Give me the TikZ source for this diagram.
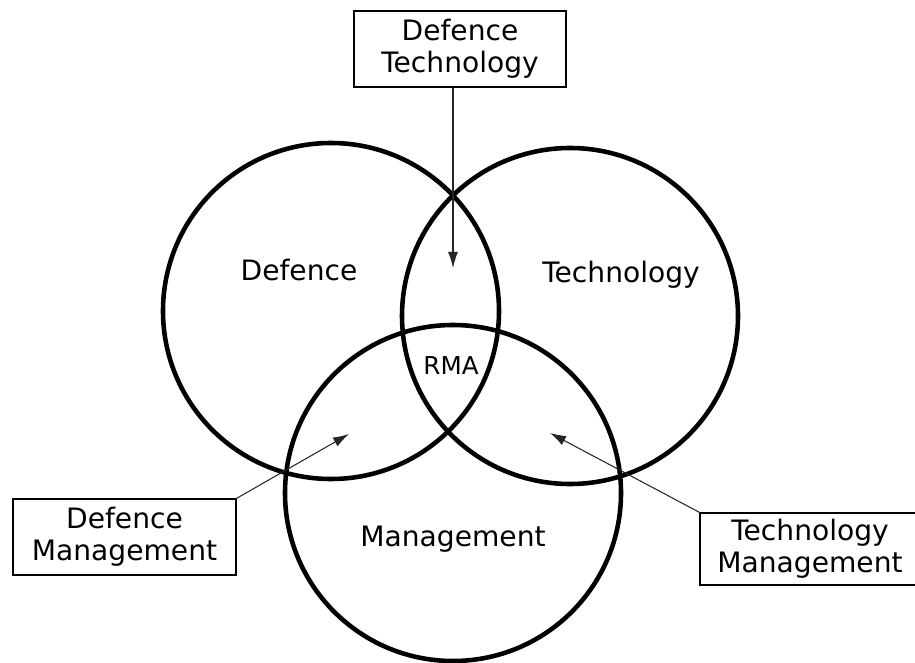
\documentclass[tikz,border=0pt]{standalone}
\usepackage{fontspec}
\setmainfont{DejaVu Sans}
\usetikzlibrary{arrows.meta}

\begin{document}
\begin{tikzpicture}[
  font=\fontsize{16}{18.2}\selectfont,
  set/.style={line width=2.6pt},
  tag/.style={draw, line width=0.8pt, align=center, inner sep=0pt, minimum height=1.52cm},
  pointer/.style={-{Latex[length=3.2mm,width=2mm]}, line width=0.6pt, black!85}
]
	\useasboundingbox (0, 0) rectangle (18.3, 13.24);

	% the three sets
	\draw[set] (6.62, 7.02) circle (3.36);
	\draw[set] (11.40, 6.92) circle (3.36);
	\draw[set] (9.06, 3.38) circle (3.36);

	\node (defence) at (5.98, 7.84) {Defence};
	\node (technology) at (12.42, 7.74) {Technology};
	\node (management) at (9.06, 2.46) {Management};
	\node[font=\fontsize{14}{16}\selectfont] (rma) at (9.02, 5.92) {RMA};

	% boxes for the overlaps
	\node[tag, minimum width=4.24cm] (dt) at (9.20, 12.26) {Defence\\Technology};
	\node[tag, minimum width=4.46cm] (dm) at (2.49, 2.50) {Defence\\Management};
	\node[tag, minimum width=4.4cm, minimum height=1.44cm] (tm) at (16.20, 2.26) {Technology\\Management};

	\coordinate (dtpoint) at (9.06, 7.88);
	\coordinate (dmpoint) at (6.98, 4.56);
	\coordinate (tmpoint) at (11.00, 4.58);

	\draw[pointer] (dt.south -| dtpoint) -- (dtpoint);
	\draw[pointer] (dm.north east) -- (dmpoint);
	\draw[pointer] (tm.north west) -- (tmpoint);
\end{tikzpicture}
\end{document}
